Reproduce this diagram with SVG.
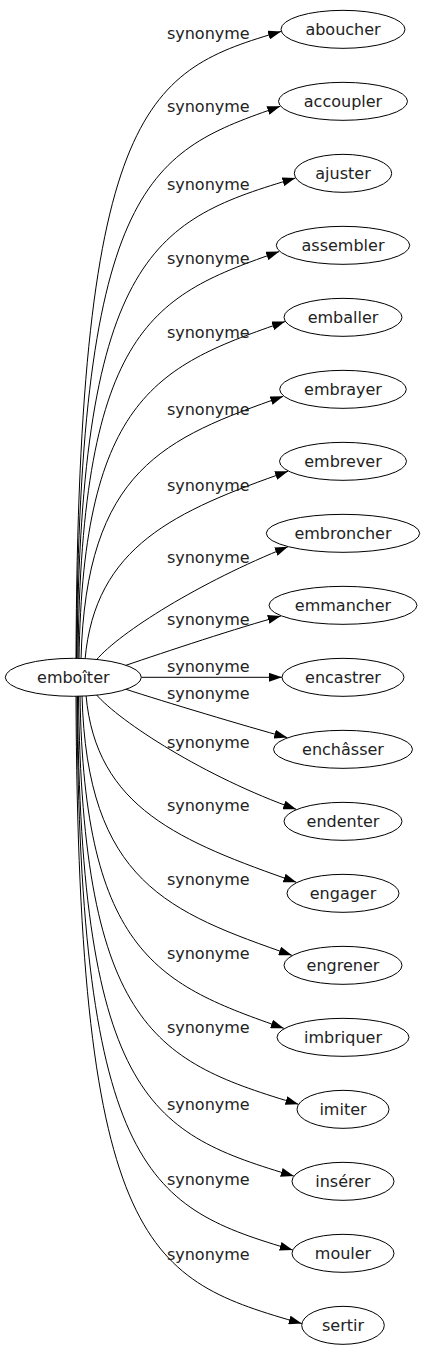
<svg xmlns="http://www.w3.org/2000/svg" width="425" height="1355" viewBox="0 0 425 1355">
<style>
.n ellipse{fill:#fff;stroke:#000;stroke-width:1}
text{font-family:"DejaVu Sans",sans-serif;font-size:16px;fill:#222;text-anchor:middle}
.e path{fill:none;stroke:#000;stroke-width:1;marker-end:url(#ah)}
</style>
<defs>
<marker id="ah" markerUnits="userSpaceOnUse" markerWidth="13" markerHeight="9" refX="13" refY="4.5" orient="auto">
<path d="M0,0 L13,4.5 L0,9 Z" fill="#000"/>
</marker>
</defs>
<rect width="425" height="1355" fill="#fff"/>
<g class="e" id="edges">
<path d="M76,659.3 C78,100 150,70 281.1,31.4"/>
<path d="M76.5,659.3 C79,178 152,151 280.2,106.3"/>
<path d="M77,659.3 C80,250 158,219 295.4,178.1"/>
<path d="M78,659.4 C81,325 155,295 279.2,251.6"/>
<path d="M79,659.4 C83,395 160,365 285,321.6"/>
<path d="M81,659.5 C86,469 165,438 283.3,396.3"/>
<path d="M85,659.8 C95,546 175,511 288,471.3"/>
<path d="M96,660.3 C120,632 200,582 287.9,546.8"/>
<path d="M125,665.6 C165,652 240,627 280.8,616.1"/>
<path d="M141.3,677.3 L282,677.3"/>
<path d="M125,689 C165,702 245,726 287.2,737.6"/>
<path d="M96,694.3 C120,722 205,777 296.2,809.3"/>
<path d="M86,695 C96,808 180,841.5 296.4,882.3"/>
<path d="M82,695.1 C87,882 168,912 291.9,955.3"/>
<path d="M80,695.2 C84,955 160,985 283.8,1028.3"/>
<path d="M78.5,695.3 C82,1031 158,1062 298.5,1104.3"/>
<path d="M77.5,695.3 C80,1104 154,1134 293.8,1176.1"/>
<path d="M77,695.3 C79,1178 152,1208 292.7,1250"/>
<path d="M76,695.3 C78,1255 150,1279.8 301.8,1323.6"/>
</g>
<g id="labels">
<text x="208.3" y="38.5">synonyme</text>
<text x="208.3" y="112">synonyme</text>
<text x="208.3" y="190">synonyme</text>
<text x="208.3" y="264">synonyme</text>
<text x="208.3" y="338">synonyme</text>
<text x="208.3" y="415">synonyme</text>
<text x="208.3" y="491">synonyme</text>
<text x="208.3" y="563">synonyme</text>
<text x="208.3" y="625">synonyme</text>
<text x="208.3" y="671.5">synonyme</text>
<text x="208.3" y="699">synonyme</text>
<text x="208.3" y="748">synonyme</text>
<text x="208.3" y="811">synonyme</text>
<text x="208.3" y="885">synonyme</text>
<text x="208.3" y="959">synonyme</text>
<text x="208.3" y="1033">synonyme</text>
<text x="208.3" y="1110">synonyme</text>
<text x="208.3" y="1185">synonyme</text>
<text x="208.3" y="1260">synonyme</text>
</g>
<g class="n" id="emboiter"><ellipse cx="73.3" cy="677.3" rx="68" ry="19"/><text x="73.3" y="682.8">emboîter</text></g>
<g class="n" id="aboucher"><ellipse cx="343" cy="29.33" rx="62" ry="19"/><text x="343" y="34.8">aboucher</text></g>
<g class="n" id="accoupler"><ellipse cx="343" cy="101.33" rx="64.5" ry="19"/><text x="343" y="106.8">accoupler</text></g>
<g class="n" id="ajuster"><ellipse cx="343" cy="173.33" rx="48.7" ry="19"/><text x="343" y="178.8">ajuster</text></g>
<g class="n" id="assembler"><ellipse cx="343" cy="245.33" rx="66.7" ry="19"/><text x="343" y="250.8">assembler</text></g>
<g class="n" id="emballer"><ellipse cx="343" cy="317.33" rx="59" ry="19"/><text x="343" y="322.8">emballer</text></g>
<g class="n" id="embrayer"><ellipse cx="343" cy="389.33" rx="63.3" ry="19"/><text x="343" y="394.8">embrayer</text></g>
<g class="n" id="embrever"><ellipse cx="343" cy="461.33" rx="63.5" ry="19"/><text x="343" y="466.8">embrever</text></g>
<g class="n" id="embroncher"><ellipse cx="343" cy="533.33" rx="76.7" ry="19"/><text x="343" y="538.8">embroncher</text></g>
<g class="n" id="emmancher"><ellipse cx="343" cy="605.33" rx="74" ry="19"/><text x="343" y="610.8">emmancher</text></g>
<g class="n" id="encastrer"><ellipse cx="343" cy="677.33" rx="61" ry="19"/><text x="343" y="682.8">encastrer</text></g>
<g class="n" id="enchasser"><ellipse cx="343" cy="749.33" rx="69.5" ry="19"/><text x="343" y="754.8">enchâsser</text></g>
<g class="n" id="endenter"><ellipse cx="343" cy="821.33" rx="59" ry="19"/><text x="343" y="826.8">endenter</text></g>
<g class="n" id="engager"><ellipse cx="343" cy="893.33" rx="56" ry="19"/><text x="343" y="898.8">engager</text></g>
<g class="n" id="engrener"><ellipse cx="343" cy="965.33" rx="59" ry="19"/><text x="343" y="970.8">engrener</text></g>
<g class="n" id="imbriquer"><ellipse cx="343" cy="1037.33" rx="66" ry="19"/><text x="343" y="1042.8">imbriquer</text></g>
<g class="n" id="imiter"><ellipse cx="343" cy="1109.33" rx="46" ry="19"/><text x="343" y="1114.8">imiter</text></g>
<g class="n" id="inserer"><ellipse cx="343" cy="1181.33" rx="51" ry="19"/><text x="343" y="1186.8">insérer</text></g>
<g class="n" id="mouler"><ellipse cx="343" cy="1253.33" rx="51" ry="19"/><text x="343" y="1258.8">mouler</text></g>
<g class="n" id="sertir"><ellipse cx="343" cy="1325.33" rx="41.3" ry="19"/><text x="343" y="1330.8">sertir</text></g>
</svg>
